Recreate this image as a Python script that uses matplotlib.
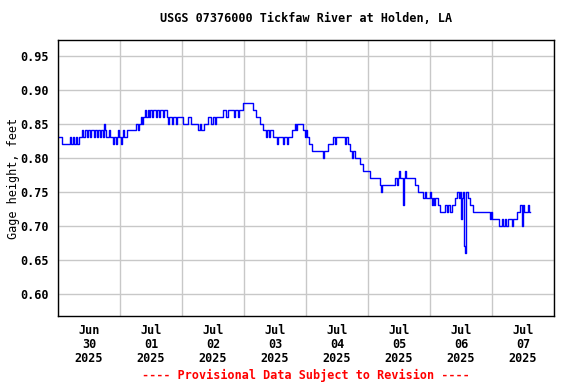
import numpy as np
import matplotlib
matplotlib.use("Agg")
import matplotlib.pyplot as plt

# gage height readings (hours since 2025-06-30 00:00, feet), step changes
hours = [0.0, 1.5, 4.6, 5.0, 5.8, 6.2, 7.0, 7.4, 8.1, 9.3, 9.7, 10.5, 11.2, 11.6, 12.4, 12.8,
         13.9, 14.3, 15.1, 15.5, 16.3, 16.6, 17.4, 17.8, 18.2, 18.6, 19.7, 20.1, 21.3, 21.7,
         22.5, 22.8, 23.2, 23.6, 24.4, 24.8, 25.2, 25.5, 26.7, 30.2, 31.0, 31.4, 32.1, 32.5,
         32.9, 33.7, 34.1, 34.8, 35.2, 35.6, 36.4, 36.8, 37.9, 38.3, 39.1, 39.5, 40.6, 41.0,
         42.2, 42.6, 43.0, 44.1, 44.5, 45.7, 46.1, 48.4, 50.3, 51.5, 54.2, 55.0, 55.4, 56.5,
         58.1, 59.2, 60.0, 60.8, 61.2, 63.9, 65.0, 65.8, 68.1, 68.5, 69.7, 70.1, 71.6, 75.5,
         76.6, 78.2, 79.4, 80.5, 80.9, 81.7, 82.1, 83.2, 84.8, 85.2, 87.1, 87.5, 88.6, 89.0,
         90.6, 91.7, 92.1, 92.5, 94.8, 95.6, 96.0, 96.4, 97.2, 98.3, 102.6, 103.0, 104.5,
         106.5, 107.2, 107.6, 111.1, 111.5, 112.3, 113.0, 113.8, 114.2, 115.0, 116.9, 118.1,
         120.8, 124.7, 125.1, 125.4, 130.5, 131.3, 131.6, 132.0, 132.4, 133.6, 133.9, 134.3,
         134.7, 138.2, 139.4, 141.3, 142.1, 142.5, 144.0, 144.4, 144.8, 145.2, 145.5, 145.9,
         147.1, 147.9, 149.8, 150.6, 151.0, 151.7, 152.5, 153.7, 154.5, 155.2, 155.6, 156.0,
         156.4, 156.8, 157.2, 157.5, 157.9, 158.7, 159.5, 160.6, 167.2, 167.6, 168.0, 170.7,
         171.9, 172.3, 173.1, 173.5, 174.2, 175.8, 176.2, 177.7, 178.9, 179.7, 180.1, 180.5,
         182.0, 182.4, 182.8]
gage = [0.83, 0.82, 0.83, 0.82, 0.83, 0.82, 0.83, 0.82, 0.83, 0.84, 0.83, 0.84, 0.83, 0.84,
        0.83, 0.84, 0.83, 0.84, 0.83, 0.84, 0.83, 0.84, 0.83, 0.85, 0.84, 0.83, 0.84, 0.83,
        0.82, 0.83, 0.82, 0.83, 0.84, 0.83, 0.82, 0.83, 0.84, 0.83, 0.84, 0.85, 0.84, 0.85,
        0.86, 0.85, 0.86, 0.87, 0.86, 0.87, 0.86, 0.87, 0.86, 0.87, 0.86, 0.87, 0.86, 0.87,
        0.86, 0.87, 0.86, 0.85, 0.86, 0.85, 0.86, 0.85, 0.86, 0.85, 0.86, 0.85, 0.84, 0.85,
        0.84, 0.85, 0.86, 0.85, 0.86, 0.85, 0.86, 0.87, 0.86, 0.87, 0.86, 0.87, 0.86, 0.87,
        0.88, 0.87, 0.86, 0.85, 0.84, 0.83, 0.84, 0.83, 0.84, 0.83, 0.82, 0.83, 0.82, 0.83,
        0.82, 0.83, 0.84, 0.85, 0.84, 0.85, 0.84, 0.83, 0.84, 0.83, 0.82, 0.81, 0.80, 0.81,
        0.82, 0.83, 0.82, 0.83, 0.82, 0.83, 0.82, 0.81, 0.80, 0.81, 0.80, 0.79, 0.78, 0.77,
        0.76, 0.75, 0.76, 0.77, 0.76, 0.77, 0.78, 0.77, 0.73, 0.77, 0.78, 0.77, 0.76, 0.75,
        0.74, 0.75, 0.74, 0.75, 0.74, 0.73, 0.74, 0.73, 0.74, 0.73, 0.72, 0.73, 0.72, 0.73,
        0.72, 0.73, 0.74, 0.75, 0.74, 0.75, 0.71, 0.74, 0.75, 0.67, 0.66, 0.75, 0.74, 0.73,
        0.72, 0.71, 0.72, 0.71, 0.70, 0.71, 0.70, 0.71, 0.70, 0.71, 0.70, 0.71, 0.72, 0.73,
        0.70, 0.73, 0.72, 0.73, 0.72, 0.72]

day_labels = ["Jun\n30\n2025", "Jul\n01\n2025", "Jul\n02\n2025", "Jul\n03\n2025",
              "Jul\n04\n2025", "Jul\n05\n2025", "Jul\n06\n2025", "Jul\n07\n2025"]
y_ticks = [0.60, 0.65, 0.70, 0.75, 0.80, 0.85, 0.90, 0.95]

plt.rcParams['font.family'] = ['DejaVu Sans Mono']
plt.rcParams['font.weight'] = 'bold'
plt.rcParams['font.size'] = 8.5

fig = plt.figure(figsize=(5.76, 3.84), dpi=100)
ax = fig.add_axes([58 / 576, 68 / 384, 496 / 576, 276 / 384])

ax.plot(hours, gage, drawstyle='steps-post', color='#0000FF', linewidth=1.0)

ax.set_xlim(0, 24 * len(day_labels))
ax.set_ylim(0.567, 0.973)

# gridlines at midnight, date labels at noon
ax.set_xticks(np.arange(0, 24 * len(day_labels) + 1, 24))
ax.set_xticklabels([])
ax.set_xticks(np.arange(12, 24 * len(day_labels), 24), minor=True)
ax.set_xticklabels(day_labels, minor=True, linespacing=1.1)
ax.set_yticks(y_ticks)
ax.set_yticklabels([f"{v:.2f}" for v in y_ticks])
ax.tick_params(which='both', length=0)
ax.tick_params(axis='x', which='minor', pad=6)
ax.tick_params(axis='y', pad=7)

ax.grid(True, which='major', color='#C8C8C8', linewidth=1.0)
ax.set_axisbelow(True)
for spine in ax.spines.values():
    spine.set_linewidth(1.0)
    spine.set_color('black')

ax.set_ylabel('Gage height, feet')
ax.yaxis.set_label_coords((20 - 58) / 496, 0.5)
fig.text(0.5 * (58 + 554) / 576, 1 - 19 / 384, 'USGS 07376000 Tickfaw River at Holden, LA',
         ha='center', va='center')
fig.text(0.5 * (58 + 554) / 576, 1 - 375 / 384, '---- Provisional Data Subject to Revision ----',
         ha='center', va='center', color='red')

fig.savefig('out.png', dpi=100)
